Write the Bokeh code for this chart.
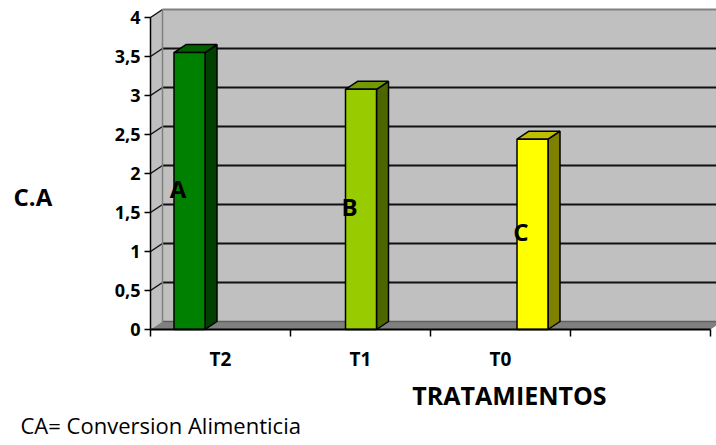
from bokeh.plotting import figure
from bokeh.models import Range1d, FixedTicker, Label, ColumnDataSource
from bokeh.core.properties import value
from bokeh.embed import file_html
from bokeh.resources import INLINE

# Feed conversion (C.A) per treatment
tratamientos = ["T2", "T1", "T0"]
conversion = [3.55, 3.08, 2.44]
grupos = ["A", "B", "C"]
colores = ["#008000", "#99cc00", "#ffff00"]
y_ticks = [0, 0.5, 1, 1.5, 2, 2.5, 3, 3.5, 4]

FONT = "Open Sans"
W, H = 716, 445

# layout: the plotting frame fills the canvas; the chart's origin sits at (ORIG_X, ORIG_Y) px
ORIG_X, ORIG_Y = 150.0, 329.0
PX_CAT = 140.0          # px per category slot on the front axis
PX_Y = 78.0             # px per unit on the value axis
DEPTH_DX_PX, DEPTH_DY_PX = 12.0, 8.0
dx = DEPTH_DX_PX / PX_CAT
dy = DEPTH_DY_PX / PX_Y
n_slots = 4
x_end = (W - ORIG_X) / PX_CAT

p = figure(width=W, height=H, output_backend="svg", toolbar_location=None,
           x_range=Range1d(-ORIG_X / PX_CAT, x_end),
           y_range=Range1d((ORIG_Y - H) / PX_Y, ORIG_Y / PX_Y),
           min_border=0)
p.xgrid.visible = False
p.ygrid.visible = False
p.outline_line_color = None
p.background_fill_color = "white"
p.border_fill_color = "white"

# separate scale for the columns (3D view spreads them wider than the slots)
PX_BAR = 171.5
bar_start = 0.5 - 39.0 / PX_BAR
p.extra_x_ranges = {"bars": Range1d(bar_start - ORIG_X / PX_BAR, bar_start + (W - ORIG_X) / PX_BAR)}
bdx = DEPTH_DX_PX / PX_BAR
bar_w = 31.0 / PX_BAR

top_v = y_ticks[-1]

# back wall
p.quad(left=dx, right=x_end + 1, bottom=dy, top=top_v + dy,
       fill_color="#c0c0c0", line_color=None)
# side wall
p.patch([0, dx, dx, 0], [0, dy, top_v + dy, top_v], fill_color="#c0c0c0", line_color=None)
# floor
p.patch([0, n_slots, n_slots + dx, dx], [0, 0, dy, dy], fill_color="#808080", line_color=None)
p.line([dx, x_end + 1], [dy, dy], line_color="#606060", line_width=1.5)

# gridlines on back wall and side wall
grid_v = [v for v in y_ticks if 0 < v < top_v]
p.multi_line(xs=[[dx, x_end + 1] for _ in grid_v], ys=[[v + dy, v + dy] for v in grid_v],
             line_color="#111111", line_width=2)
p.multi_line(xs=[[0, dx] for v in y_ticks if v > 0], ys=[[v, v + dy] for v in y_ticks if v > 0],
             line_color="#111111", line_width=1.5)
p.line([dx, x_end + 1], [top_v + dy, top_v + dy], line_color="#808080", line_width=2)
p.line([dx, dx], [dy, top_v + dy], line_color="#808080", line_width=1.5)


def shade(hexcol, f):
    r, g, b = (int(hexcol[i:i + 2], 16) for i in (1, 3, 5))
    return "#%02x%02x%02x" % (int(r * f), int(g * f), int(b * f))


centers = [i + 0.5 for i in range(len(tratamientos))]
lefts = [c - bar_w / 2 for c in centers]
rights = [c + bar_w / 2 for c in centers]

src = ColumnDataSource(dict(
    left=lefts, right=rights, top=conversion, color=colores,
    side=[shade(c, 0.5) for c in colores], cap=[shade(c, 0.75) for c in colores],
    side_xs=[[r, r + bdx, r + bdx, r] for r in rights],
    side_ys=[[0, dy, v + dy, v] for v in conversion],
    top_xs=[[l, l + bdx, r + bdx, r] for l, r in zip(lefts, rights)],
    top_ys=[[v, v + dy, v + dy, v] for v in conversion],
    lab_y=[v / 2 for v in conversion], grupo=grupos,
))

p.patches(xs="side_xs", ys="side_ys", source=src, fill_color="side",
          line_color="black", line_width=1.5, x_range_name="bars")
p.patches(xs="top_xs", ys="top_ys", source=src, fill_color="cap",
          line_color="black", line_width=1.5, x_range_name="bars")
p.quad(left="left", right="right", bottom=0, top="top", source=src, fill_color="color",
       line_color="black", line_width=1.5, x_range_name="bars")

p.text(x="left", y="lab_y", text="grupo", source=src, x_range_name="bars",
       text_font=value(FONT), text_font_style="bold", text_font_size="24px",
       text_align="center", text_baseline="middle", x_offset=4, y_offset=-3,
       text_color="black")

# value axis, drawn at the front-left edge of the floor
ya = p.yaxis[0]
ya.fixed_location = 0
ya.ticker = FixedTicker(ticks=y_ticks)
ya.major_label_overrides = {v: ("%g" % v).replace(".", ",") for v in y_ticks}
ya.bounds = (0, top_v)
ya.axis_line_color = "black"
ya.axis_line_width = 1.5
ya.major_tick_in = 0
ya.major_tick_out = 6
ya.major_tick_line_width = 1.5
ya.minor_tick_line_color = None
ya.major_label_standoff = 4
ya.major_label_text_font = FONT
ya.major_label_text_font_style = "bold"
ya.major_label_text_font_size = "18px"
ya.major_label_text_color = "black"

# category axis along the front edge of the floor
xa = p.xaxis[0]
xa.fixed_location = 0
xa.ticker = FixedTicker(ticks=centers, minor_ticks=list(range(n_slots + 1)))
xa.major_label_overrides = {c: t for c, t in zip(centers, tratamientos)}
xa.bounds = (0, n_slots)
xa.axis_line_color = "black"
xa.axis_line_width = 2
xa.major_tick_in = 0
xa.major_tick_out = 0
xa.minor_tick_in = 0
xa.minor_tick_out = 7
xa.minor_tick_line_width = 1.5
xa.minor_tick_line_color = "black"
xa.major_label_standoff = 9
xa.major_label_text_font = FONT
xa.major_label_text_font_style = "bold"
xa.major_label_text_font_size = "19px"
xa.major_label_text_color = "black"


# titles, in screen px from the canvas' top-left
def canvas_label(px, py, text, **kw):
    p.add_layout(Label(x=px, y=H - py, x_units="screen", y_units="screen",
                       text=text, text_font=FONT, text_color="black",
                       text_baseline="alphabetic", **kw))


canvas_label(13, 196, "C.A", text_font_style="bold", text_font_size="24px")
canvas_label(509, 394, "TRATAMIENTOS", text_font_style="bold", text_font_size="25px",
             text_align="center")
canvas_label(20, 424, "CA= Conversion Alimenticia", text_font_size="22px")

open("out.html", "w").write(file_html(p, INLINE))
